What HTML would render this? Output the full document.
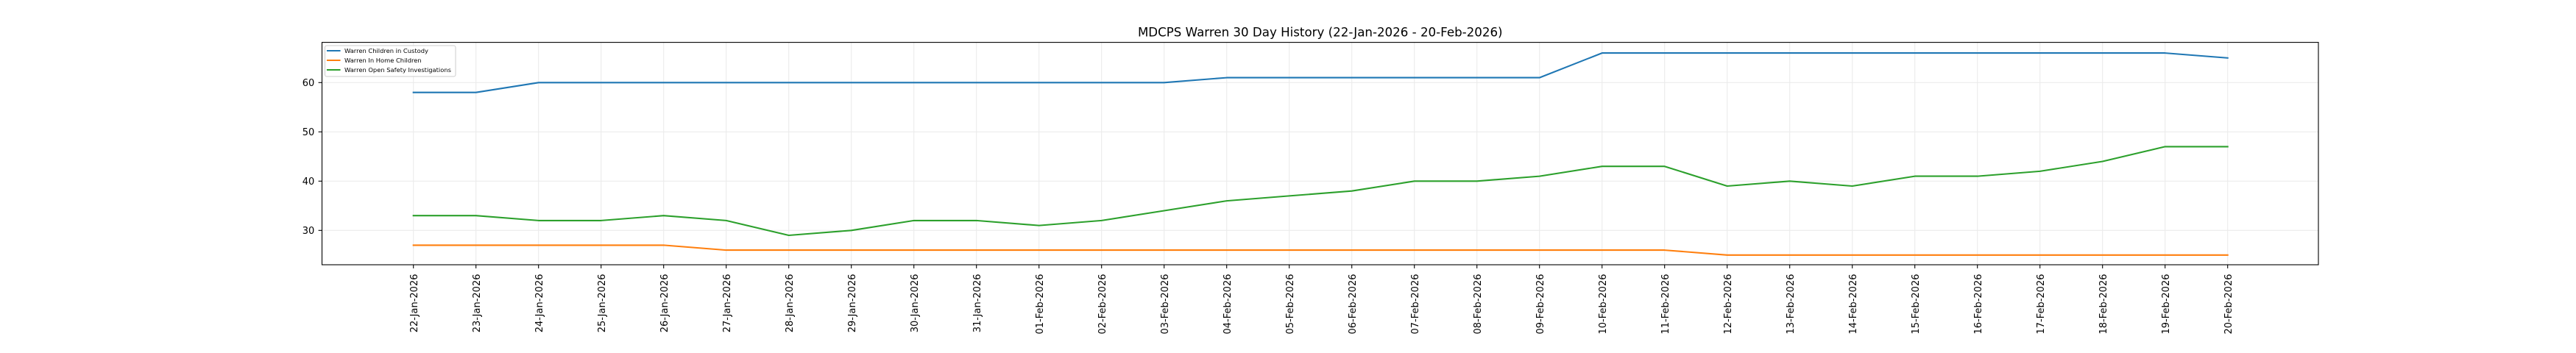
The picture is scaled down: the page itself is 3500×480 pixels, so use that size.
<!DOCTYPE html>
<html>
<head>
<meta charset="utf-8">
<style>
html,body{margin:0;padding:0;background:#fff;}
body{width:3500px;height:480px;overflow:hidden;}
svg{display:block;}
text{font-family:"DejaVu Sans","Liberation Sans",sans-serif;fill:#000;}
</style>
</head>
<body>
<svg width="3500" height="480" viewBox="0 0 3500 480" xmlns="http://www.w3.org/2000/svg">
<rect x="0" y="0" width="3500" height="480" fill="#fff"/>
<!-- grid -->
<g stroke="#ebebeb" stroke-width="1.1" fill="none">
<line x1="561.7" y1="57.6" x2="561.7" y2="360"/>
<line x1="646.7" y1="57.6" x2="646.7" y2="360"/>
<line x1="731.7" y1="57.6" x2="731.7" y2="360"/>
<line x1="816.7" y1="57.6" x2="816.7" y2="360"/>
<line x1="901.7" y1="57.6" x2="901.7" y2="360"/>
<line x1="986.7" y1="57.6" x2="986.7" y2="360"/>
<line x1="1071.7" y1="57.6" x2="1071.7" y2="360"/>
<line x1="1156.7" y1="57.6" x2="1156.7" y2="360"/>
<line x1="1241.7" y1="57.6" x2="1241.7" y2="360"/>
<line x1="1326.7" y1="57.6" x2="1326.7" y2="360"/>
<line x1="1411.7" y1="57.6" x2="1411.7" y2="360"/>
<line x1="1496.7" y1="57.6" x2="1496.7" y2="360"/>
<line x1="1581.7" y1="57.6" x2="1581.7" y2="360"/>
<line x1="1666.7" y1="57.6" x2="1666.7" y2="360"/>
<line x1="1751.7" y1="57.6" x2="1751.7" y2="360"/>
<line x1="1836.7" y1="57.6" x2="1836.7" y2="360"/>
<line x1="1921.7" y1="57.6" x2="1921.7" y2="360"/>
<line x1="2006.7" y1="57.6" x2="2006.7" y2="360"/>
<line x1="2091.7" y1="57.6" x2="2091.7" y2="360"/>
<line x1="2176.7" y1="57.6" x2="2176.7" y2="360"/>
<line x1="2261.7" y1="57.6" x2="2261.7" y2="360"/>
<line x1="2346.7" y1="57.6" x2="2346.7" y2="360"/>
<line x1="2431.7" y1="57.6" x2="2431.7" y2="360"/>
<line x1="2516.7" y1="57.6" x2="2516.7" y2="360"/>
<line x1="2601.7" y1="57.6" x2="2601.7" y2="360"/>
<line x1="2686.7" y1="57.6" x2="2686.7" y2="360"/>
<line x1="2771.7" y1="57.6" x2="2771.7" y2="360"/>
<line x1="2856.7" y1="57.6" x2="2856.7" y2="360"/>
<line x1="2941.7" y1="57.6" x2="2941.7" y2="360"/>
<line x1="3026.7" y1="57.6" x2="3026.7" y2="360"/>
<line x1="437.5" y1="313.3" x2="3150" y2="313.3"/>
<line x1="437.5" y1="246.3" x2="3150" y2="246.3"/>
<line x1="437.5" y1="179.3" x2="3150" y2="179.3"/>
<line x1="437.5" y1="112.3" x2="3150" y2="112.3"/>
</g>
<!-- series -->
<g fill="none" stroke-width="2.08" stroke-linejoin="round" stroke-linecap="square">
<polyline stroke="#1f77b4" points="561.7,125.7 646.7,125.7 731.7,112.3 1581.7,112.3 1666.7,105.6 2091.7,105.6 2176.7,72.1 2941.7,72.1 3026.7,78.8"/>
<polyline stroke="#ff7f0e" points="561.7,333.4 901.7,333.4 986.7,340.1 2261.7,340.1 2346.7,346.8 3026.7,346.8"/>
<polyline stroke="#2ca02c" points="561.7,293.2 646.7,293.2 731.7,299.9 816.7,299.9 901.7,293.2 986.7,299.9 1071.7,320.0 1156.7,313.3 1241.7,299.9 1326.7,299.9 1411.7,306.6 1496.7,299.9 1581.7,286.5 1666.7,273.1 1751.7,266.4 1836.7,259.7 1921.7,246.3 2006.7,246.3 2091.7,239.6 2176.7,226.2 2261.7,226.2 2346.7,253.0 2431.7,246.3 2516.7,253.0 2601.7,239.6 2686.7,239.6 2771.7,232.9 2856.7,219.5 2941.7,199.4 3026.7,199.4"/>
</g>
<!-- spines -->
<rect x="437.5" y="57.6" width="2712.5" height="302.4" fill="none" stroke="#000" stroke-width="1.1"/>
<!-- y ticks -->
<g stroke="#000" stroke-width="1.1">
<line x1="432.6" y1="313.3" x2="437.5" y2="313.3"/>
<line x1="432.6" y1="246.3" x2="437.5" y2="246.3"/>
<line x1="432.6" y1="179.3" x2="437.5" y2="179.3"/>
<line x1="432.6" y1="112.3" x2="437.5" y2="112.3"/>
</g>
<g font-size="13" text-anchor="end">
<text x="427.3" y="318.0">30</text>
<text x="427.3" y="251.0">40</text>
<text x="427.3" y="184.0">50</text>
<text x="427.3" y="117.0">60</text>
</g>
<!-- x ticks -->
<g stroke="#000" stroke-width="1.1">
<line x1="561.7" y1="360" x2="561.7" y2="364.9"/>
<line x1="646.7" y1="360" x2="646.7" y2="364.9"/>
<line x1="731.7" y1="360" x2="731.7" y2="364.9"/>
<line x1="816.7" y1="360" x2="816.7" y2="364.9"/>
<line x1="901.7" y1="360" x2="901.7" y2="364.9"/>
<line x1="986.7" y1="360" x2="986.7" y2="364.9"/>
<line x1="1071.7" y1="360" x2="1071.7" y2="364.9"/>
<line x1="1156.7" y1="360" x2="1156.7" y2="364.9"/>
<line x1="1241.7" y1="360" x2="1241.7" y2="364.9"/>
<line x1="1326.7" y1="360" x2="1326.7" y2="364.9"/>
<line x1="1411.7" y1="360" x2="1411.7" y2="364.9"/>
<line x1="1496.7" y1="360" x2="1496.7" y2="364.9"/>
<line x1="1581.7" y1="360" x2="1581.7" y2="364.9"/>
<line x1="1666.7" y1="360" x2="1666.7" y2="364.9"/>
<line x1="1751.7" y1="360" x2="1751.7" y2="364.9"/>
<line x1="1836.7" y1="360" x2="1836.7" y2="364.9"/>
<line x1="1921.7" y1="360" x2="1921.7" y2="364.9"/>
<line x1="2006.7" y1="360" x2="2006.7" y2="364.9"/>
<line x1="2091.7" y1="360" x2="2091.7" y2="364.9"/>
<line x1="2176.7" y1="360" x2="2176.7" y2="364.9"/>
<line x1="2261.7" y1="360" x2="2261.7" y2="364.9"/>
<line x1="2346.7" y1="360" x2="2346.7" y2="364.9"/>
<line x1="2431.7" y1="360" x2="2431.7" y2="364.9"/>
<line x1="2516.7" y1="360" x2="2516.7" y2="364.9"/>
<line x1="2601.7" y1="360" x2="2601.7" y2="364.9"/>
<line x1="2686.7" y1="360" x2="2686.7" y2="364.9"/>
<line x1="2771.7" y1="360" x2="2771.7" y2="364.9"/>
<line x1="2856.7" y1="360" x2="2856.7" y2="364.9"/>
<line x1="2941.7" y1="360" x2="2941.7" y2="364.9"/>
<line x1="3026.7" y1="360" x2="3026.7" y2="364.9"/>
</g>
<g font-size="13" text-anchor="end">
<text transform="translate(567.2,372.5) rotate(-90)">22-Jan-2026</text>
<text transform="translate(652.2,372.5) rotate(-90)">23-Jan-2026</text>
<text transform="translate(737.2,372.5) rotate(-90)">24-Jan-2026</text>
<text transform="translate(822.2,372.5) rotate(-90)">25-Jan-2026</text>
<text transform="translate(907.2,372.5) rotate(-90)">26-Jan-2026</text>
<text transform="translate(992.2,372.5) rotate(-90)">27-Jan-2026</text>
<text transform="translate(1077.2,372.5) rotate(-90)">28-Jan-2026</text>
<text transform="translate(1162.2,372.5) rotate(-90)">29-Jan-2026</text>
<text transform="translate(1247.2,372.5) rotate(-90)">30-Jan-2026</text>
<text transform="translate(1332.2,372.5) rotate(-90)">31-Jan-2026</text>
<text transform="translate(1417.2,372.5) rotate(-90)">01-Feb-2026</text>
<text transform="translate(1502.2,372.5) rotate(-90)">02-Feb-2026</text>
<text transform="translate(1587.2,372.5) rotate(-90)">03-Feb-2026</text>
<text transform="translate(1672.2,372.5) rotate(-90)">04-Feb-2026</text>
<text transform="translate(1757.2,372.5) rotate(-90)">05-Feb-2026</text>
<text transform="translate(1842.2,372.5) rotate(-90)">06-Feb-2026</text>
<text transform="translate(1927.2,372.5) rotate(-90)">07-Feb-2026</text>
<text transform="translate(2012.2,372.5) rotate(-90)">08-Feb-2026</text>
<text transform="translate(2097.2,372.5) rotate(-90)">09-Feb-2026</text>
<text transform="translate(2182.2,372.5) rotate(-90)">10-Feb-2026</text>
<text transform="translate(2267.2,372.5) rotate(-90)">11-Feb-2026</text>
<text transform="translate(2352.2,372.5) rotate(-90)">12-Feb-2026</text>
<text transform="translate(2437.2,372.5) rotate(-90)">13-Feb-2026</text>
<text transform="translate(2522.2,372.5) rotate(-90)">14-Feb-2026</text>
<text transform="translate(2607.2,372.5) rotate(-90)">15-Feb-2026</text>
<text transform="translate(2692.2,372.5) rotate(-90)">16-Feb-2026</text>
<text transform="translate(2777.2,372.5) rotate(-90)">17-Feb-2026</text>
<text transform="translate(2862.2,372.5) rotate(-90)">18-Feb-2026</text>
<text transform="translate(2947.2,372.5) rotate(-90)">19-Feb-2026</text>
<text transform="translate(3032.2,372.5) rotate(-90)">20-Feb-2026</text>
</g>
<!-- title -->
<text x="1793.75" y="49.5" font-size="16.67" text-anchor="middle">MDCPS Warren 30 Day History (22-Jan-2026 - 20-Feb-2026)</text>
<!-- legend -->
<rect x="441.5" y="62" width="177.5" height="42" rx="2.5" ry="2.5" fill="#fff" fill-opacity="0.8" stroke="#cccccc" stroke-width="1"/>
<g stroke-width="2.08" stroke-linecap="square">
<line x1="445" y1="69" x2="461.5" y2="69" stroke="#1f77b4"/>
<line x1="445" y1="82" x2="461.5" y2="82" stroke="#ff7f0e"/>
<line x1="445" y1="95" x2="461.5" y2="95" stroke="#2ca02c"/>
</g>
<g font-size="8.33">
<text x="468" y="72">Warren Children in Custody</text>
<text x="468" y="85">Warren In Home Children</text>
<text x="468" y="98">Warren Open Safety Investigations</text>
</g>
</svg>
</body>
</html>
